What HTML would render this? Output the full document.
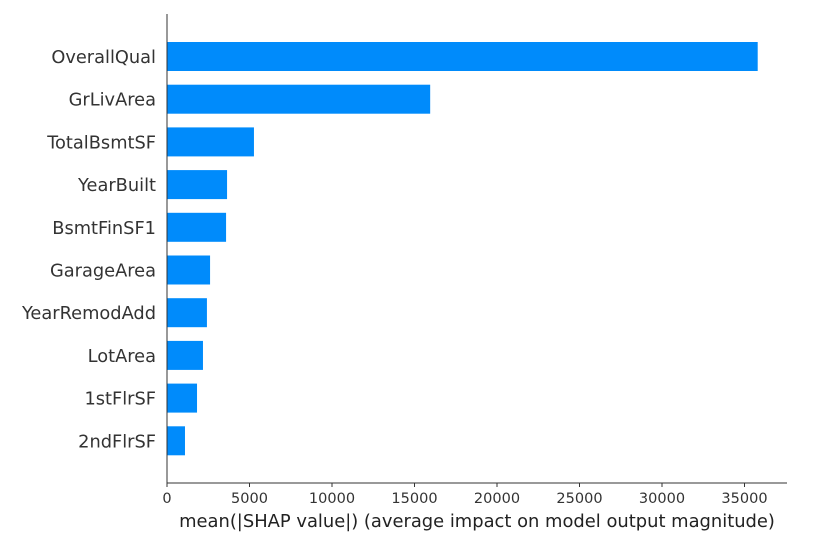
<!DOCTYPE html>
<html><head><meta charset="utf-8"><style>
html,body{margin:0;padding:0;background:#fff;}
svg{display:block;font-family:"DejaVu Sans","Liberation Sans",sans-serif;}
</style></head><body>
<svg id="chart" width="823" height="557"></svg>
<script>
const features=["OverallQual","GrLivArea","TotalBsmtSF","YearBuilt","BsmtFinSF1","GarageArea","YearRemodAdd","LotArea","1stFlrSF","2ndFlrSF"];
const values=[35800,15950,5270,3640,3580,2610,2420,2180,1820,1090];
const ticks=[0,5000,10000,15000,20000,25000,30000,35000];
const NS="http://www.w3.org/2000/svg";
const svg=document.getElementById('chart');
const x0=167,pxPer=82.5/5000,y0=56.5,step=42.7,bh=29,axisY=483;
const xs=v=>x0+v*pxPer;
const ys=i=>y0+i*step;
function mk(t,a){const e=document.createElementNS(NS,t);for(const k in a)e.setAttribute(k,a[k]);svg.appendChild(e);return e;}
features.forEach((f,i)=>{
  const r=mk('rect',{x:x0,y:ys(i)-bh/2,width:xs(values[i])-x0,height:bh,fill:'#008bfb'});
  
  
  const t=mk('text',{x:156,y:ys(i)+6.5,'text-anchor':'end','font-size':'17.8',fill:'#333'});
  t.textContent=f;
  
  
});
const ya=mk('line',{x1:x0,y1:14,x2:x0,y2:axisY,stroke:'#333','stroke-width':1});


const xa=mk('line',{x1:x0,y1:axisY,x2:787,y2:axisY,stroke:'#333','stroke-width':1});


ticks.forEach(v=>{
  const tk=mk('line',{x1:xs(v),y1:axisY,x2:xs(v),y2:axisY+4,stroke:'#333'});
  
  
  const t=mk('text',{x:xs(v),y:axisY+20,'text-anchor':'middle','font-size':'14.5',fill:'#333'});
  t.textContent=v;
  
  
});
const xl=mk('text',{x:477,y:527,'text-anchor':'middle','font-size':'17.9',fill:'#222'});
xl.textContent='mean(|SHAP value|) (average impact on model output magnitude)';


</script>
</body></html>
